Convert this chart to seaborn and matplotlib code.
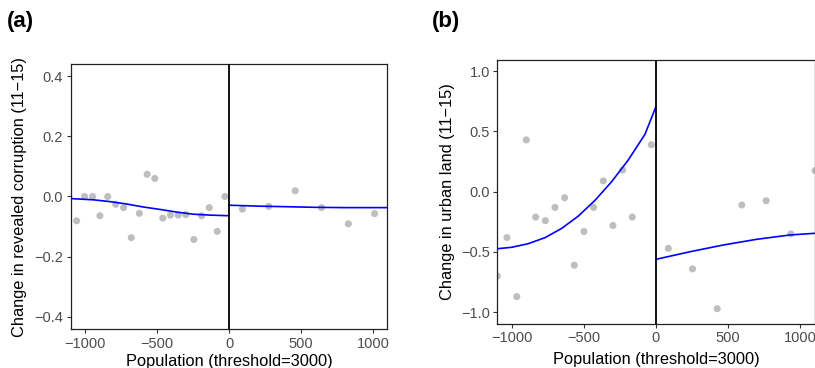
import matplotlib
matplotlib.use("Agg")
import matplotlib.pyplot as plt
import seaborn as sns
import pandas as pd

# ---------------- data ----------------
# Panel (a): binned means, change in revealed corruption
a_left_x = [-1112, -1059, -1004, -948, -897, -843, -787, -732, -679, -623, -569,
            -516, -460, -407, -353, -300, -244, -191, -137, -82, -28]
a_left_y = [0.0, -0.081, 0.0, 0.0, -0.064, 0.0, -0.026, -0.037, -0.137, -0.056, 0.074,
            0.060, -0.072, -0.062, -0.062, -0.060, -0.143, -0.064, -0.037, -0.116, 0.0]
a_right_x = [93, 276, 460, 643, 829, 1012]
a_right_y = [-0.042, -0.033, 0.019, -0.037, -0.091, -0.057]
# fitted curves (a)
a_fitL_x = [-1100, -943, -827, -711, -595, -479, -362, -246, -130, 0]
a_fitL_y = [-0.007, -0.011, -0.017, -0.025, -0.035, -0.043, -0.052, -0.059, -0.062, -0.064]
a_fitR_x = [0, 200, 400, 600, 800, 1100]
a_fitR_y = [-0.029, -0.032, -0.034, -0.036, -0.037, -0.037]

# Panel (b): binned means, change in urban land
b_left_x = [-1100, -1033, -965, -899, -834, -767, -700, -633, -566, -499, -432,
            -365, -298, -231, -164, -32]
b_left_y = [-0.70, -0.38, -0.87, 0.43, -0.21, -0.24, -0.13, -0.05, -0.61, -0.33, -0.13,
            0.09, -0.28, 0.18, -0.21, 0.39]
b_right_x = [86, 254, 425, 596, 765, 936, 1104]
b_right_y = [-0.47, -0.64, -0.97, -0.11, -0.075, -0.35, 0.175]
# fitted curves (b)
b_fitL_x = [-1100, -1000, -885, -769, -653, -538, -423, -307, -192, -76, 0]
b_fitL_y = [-0.473, -0.461, -0.431, -0.381, -0.304, -0.202, -0.072, 0.083, 0.263, 0.476, 0.705]
b_fitR_x = [0, 236, 467, 698, 929, 1100]
b_fitR_y = [-0.561, -0.498, -0.442, -0.395, -0.359, -0.345]

x_ticks = [-1000, -500, 0, 500, 1000]
a_yticks = [-0.4, -0.2, 0.0, 0.2, 0.4]
b_yticks = [-1.0, -0.5, 0.0, 0.5, 1.0]

# ---------------- style ----------------
sns.set_style("ticks")
plt.rcParams["font.family"] = ["Liberation Sans", "DejaVu Sans"]
plt.rcParams["axes.unicode_minus"] = True
plt.rcParams["text.color"] = "black"

W, H = 815, 368
fig = plt.figure(figsize=(W / 100, H / 100), dpi=100)

def box(l, r, t, b):
    return [l / W, (H - b) / H, (r - l) / W, (b - t) / H]

axA = fig.add_axes(box(70.7, 387.3, 64.3, 329.0))
axB = fig.add_axes(box(497.3, 814.5, 60.0, 323.7))

pt_color = "#BEBEBE"
line_color = "#0000FF"

def draw(ax, lx, ly, rx, ry, flx, fly, frx, fry, yticks, ylim, ylabel,
         ylab_x, xlab_y):
    pts = pd.DataFrame({"x": lx + rx, "y": ly + ry})
    sns.scatterplot(data=pts, x="x", y="y", ax=ax, color=pt_color, s=26,
                    edgecolor="none", linewidth=0, zorder=2)
    sns.lineplot(x=flx, y=fly, ax=ax, color=line_color, lw=1.2, zorder=3)
    sns.lineplot(x=frx, y=fry, ax=ax, color=line_color, lw=1.2, zorder=3)
    ax.axvline(0, color="black", lw=1.3, zorder=4)
    ax.set_xlim(-1100, 1100)
    ax.set_ylim(*ylim)
    ax.set_xticks(x_ticks)
    ax.set_yticks(yticks)
    ax.set_xticklabels([f"{v:d}".replace("-", "\u2212") for v in x_ticks])
    ax.set_yticklabels([f"{v:.1f}".replace("-", "\u2212") for v in yticks])
    for s in ax.spines.values():
        s.set_visible(True)
        s.set_color("#222222")
        s.set_linewidth(0.9)
    ax.tick_params(axis="both", length=3.2, width=0.8, color="#333333",
                   labelcolor="#4D4D4D", labelsize=10.5, pad=2.2)
    ax.set_xlabel("Population (threshold=3000)", fontsize=11.8, color="black", va="center")
    ax.set_ylabel(ylabel, fontsize=11.8, color="black", va="center")
    ax.xaxis.set_label_coords(0.5, xlab_y)
    ax.yaxis.set_label_coords(ylab_x, 0.5)

draw(axA, a_left_x, a_left_y, a_right_x, a_right_y, a_fitL_x, a_fitL_y,
     a_fitR_x, a_fitR_y, a_yticks, (-0.441, 0.44),
     "Change in revealed corruption (11\u221215)", (20 - 70.7) / 316.6, -0.121)
draw(axB, b_left_x, b_left_y, b_right_x, b_right_y, b_fitL_x, b_fitL_y,
     b_fitR_x, b_fitR_y, b_yticks, (-1.095, 1.093),
     "Change in urban land (11\u221215)", (447.5 - 497.3) / 317.2, -0.136)

fig.text(7 / W, 1 - 22 / H, "(a)", fontsize=16, fontweight="bold", color="black",
         ha="left", va="center")
fig.text(431.7 / W, 1 - 22 / H, "(b)", fontsize=16, fontweight="bold", color="black",
         ha="left", va="center")

fig.savefig("out.png", dpi=100)
